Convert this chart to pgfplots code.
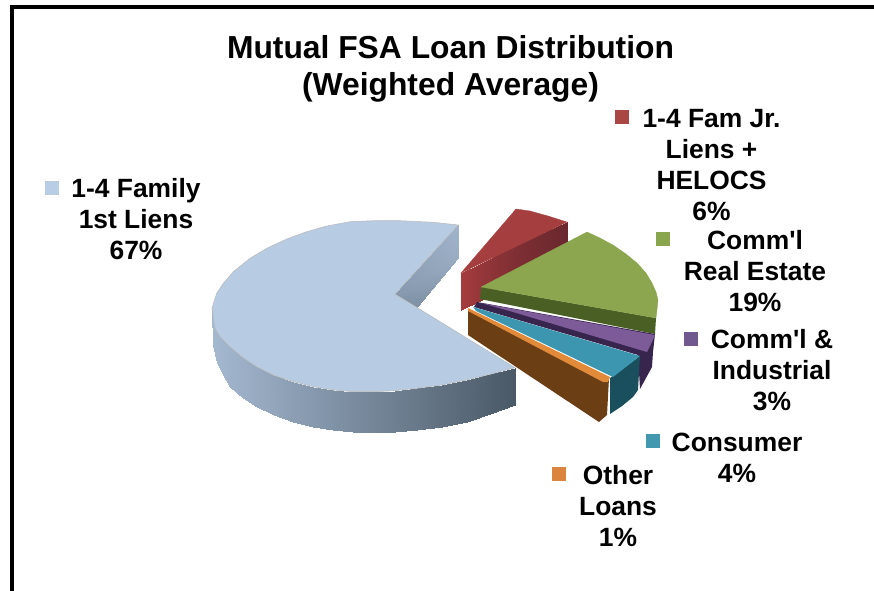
\documentclass[border=0pt]{standalone}
\usepackage{pgfplots}
\pgfplotsset{compat=1.18}
\usepackage{fontspec}
\setmainfont{Liberation Sans}
\newfontfamily\arial{Liberation Sans}
\definecolor{bluetop}{HTML}{B7CBE3}
\definecolor{bluekey}{HTML}{B9CDE5}
\definecolor{redtop}{HTML}{A53F3F}
\definecolor{redkey}{HTML}{AA4643}
\definecolor{greentop}{HTML}{8BA64E}
\definecolor{greenwall}{HTML}{4A5F24}
\definecolor{greenkey}{HTML}{89A54E}
\definecolor{purpletop}{HTML}{7D5A98}
\definecolor{purplewall}{HTML}{38254E}
\definecolor{purplekey}{HTML}{71588F}
\definecolor{tealtop}{HTML}{3D96B0}
\definecolor{tealwall}{HTML}{1A4F5E}
\definecolor{tealkey}{HTML}{4198AF}
\definecolor{orangetop}{HTML}{E08A3A}
\definecolor{brownwall}{HTML}{6C3E14}
\definecolor{orangekey}{HTML}{DB843D}
\tikzset{lab/.style={anchor=center,inner sep=0pt,align=center,text=black,font=\arial\fontsize{26.4}{31}\selectfont\bfseries}}
\begin{document}
\begin{tikzpicture}
\path[use as bounding box] (0,0) rectangle (874pt,590pt);
\begin{axis}[
  at={(0,0)},anchor=south west,
  scale only axis,width=874pt,height=590pt,
  y dir=reverse,xmin=0,xmax=874,ymin=0,ymax=590,hide axis,
  point meta min=0,point meta max=1,
  colormap={bluewall}{rgb255(0cm)=(164,184,208); rgb255(1cm)=(74,89,103)},
  clip=true,
]
% red slice
\addplot[surf,shader=interp,mesh/cols=2,point meta=explicit,
  colormap={redwall}{rgb255(0cm)=(166,60,62); rgb255(1cm)=(106,40,46)}]
 coordinates {
 (461,273)[0] (461,310)[0]
 (482,263)[0.3] (482,300)[0.3]
 (520,243)[0.7] (520,275)[0.7]
 (567,222)[1] (567,245)[1]
};
\addplot[fill=redtop,draw=redtop,line width=0.3pt] coordinates {(461,273)(516,209)(530,211)(548,216)(567,222)} --cycle;
% green slice
\addplot[fill=greenwall,draw=none] coordinates {(481,287)(656,318)(655,334)(480,299)} --cycle;
\addplot[fill=greentop,draw=greentop,line width=0.3pt] coordinates {(481,287)(587,232)(600,238)(613,245)(626,254)(637,263)(646,273)(652,283)(656,292)(658,300)(657,310)(656,318)} --cycle;
% purple slice
\addplot[fill=purplewall,draw=none] coordinates {(477,302)(655,334)(653,352)(652,367)(640,389)(638,355)(474,307)} --cycle;
\addplot[fill=purpletop,draw=none] coordinates {(481,303)(655,335)(651,344)(647,352)(513,312)} --cycle;
% teal slice
\addplot[fill=tealwall,draw=none] coordinates {(640,356)(638,390)(633,397)(622,406)(610,414)(610,378)} --cycle;
\addplot[fill=tealtop,draw=none] coordinates {(473,307)(640,356)(613,377)(476,311)} --cycle;
% other loans slice
\addplot[fill=brownwall,draw=none] coordinates {(468,309)(609,378)(607,415)(599,422)(468,335)} --cycle;
\addplot[fill=orangetop,draw=none] coordinates {(468,308)(610,377)(608,382)(603,382)(468,311)} --cycle;
% big slice
\addplot[surf,shader=interp,mesh/cols=2,point meta=explicit] coordinates {
 (458.3,225)[0.05] (458.3,258)[0.12]
 (395,294)[0.33] (417,307)[0.42]
};
\addplot[surf,shader=interp,mesh/cols=2,point meta=explicit] coordinates {
 (212.3,310)[0] (213,345)[0]
 (215,328)[0.01] (217,363)[0.01]
 (220,336.7)[0.03] (223,375)[0.03]
 (230,346.7)[0.06] (230,387)[0.06]
 (243.3,357.7)[0.1] (243,398)[0.1]
 (256.7,366.7)[0.15] (257,407)[0.15]
 (273.3,375)[0.2] (274,415)[0.2]
 (293.3,381.7)[0.27] (293,422)[0.27]
 (313.3,386.7)[0.33] (313,427)[0.33]
 (333.3,390)[0.4] (333,430)[0.4]
 (353.3,391.7)[0.47] (353,432)[0.47]
 (373.3,391.7)[0.53] (373,432.5)[0.53]
 (395,390.7)[0.6] (395,432)[0.6]
 (416.7,388.3)[0.67] (417,430)[0.67]
 (441.7,385)[0.76] (442,427)[0.76]
 (466.7,380)[0.84] (467,422)[0.84]
 (490,374.3)[0.92] (490,414)[0.92]
 (515,367.7)[1] (515,405)[1]
};
\addplot[fill=bluetop,draw=black!28,line width=0.5pt] coordinates {
 (458.3,225)(433.3,222.3)(400,220.7)(373.3,220.7)(350,221.7)(326.7,226)(306.7,231.7)(286.7,239)(266.7,248.3)(250,258.3)(233.3,271.7)(223.3,283.3)(216.7,293.3)(212,308.3)(215,328.3)(220,336.7)(230,346.7)(243.3,357.7)(256.7,366.7)(273.3,375)(293.3,381.7)(313.3,386.7)(333.3,390)(353.3,391.7)(373.3,391.7)(395,390.7)(416.7,388.3)(441.7,385)(466.7,380)(490,374.3)(515,367.7)(395,294)} --cycle;
% frame
\addplot[black,line width=4pt] coordinates {(12,600)(12,7)(880,7)};
% legend keys
\addplot[fill=bluekey,draw=none] coordinates {(45,181)(59,181)(59,195)(45,195)} --cycle;
\addplot[fill=redkey,draw=none] coordinates {(615,110)(629,110)(629,124)(615,124)} --cycle;
\addplot[fill=greenkey,draw=none] coordinates {(656,232)(670,232)(670,246)(656,246)} --cycle;
\addplot[fill=purplekey,draw=none] coordinates {(684,332)(698,332)(698,346)(684,346)} --cycle;
\addplot[fill=tealkey,draw=none] coordinates {(646,434)(660,434)(660,448)(646,448)} --cycle;
\addplot[fill=orangekey,draw=none] coordinates {(552,467)(566,467)(566,481)(552,481)} --cycle;
% text
\node[lab,font=\arial\fontsize{31.8}{37}\selectfont\bfseries] at (axis cs:450.5,68.5) {Mutual FSA Loan Distribution\\(Weighted Average)};
\node[lab] at (axis cs:136,219.5) {1-4 Family\\1st Liens\\67\%};
\node[lab] at (axis cs:711.5,165) {1-4 Fam Jr.\\Liens +\\HELOCS\\6\%};
\node[lab] at (axis cs:755,271.5) {Comm'l\\Real Estate\\19\%};
\node[lab] at (axis cs:772,370) {Comm'l \&\\Industrial\\3\%};
\node[lab] at (axis cs:737,458) {Consumer\\4\%};
\node[lab] at (axis cs:618,506) {Other\\Loans\\1\%};
\end{axis}
\end{tikzpicture}
\end{document}
